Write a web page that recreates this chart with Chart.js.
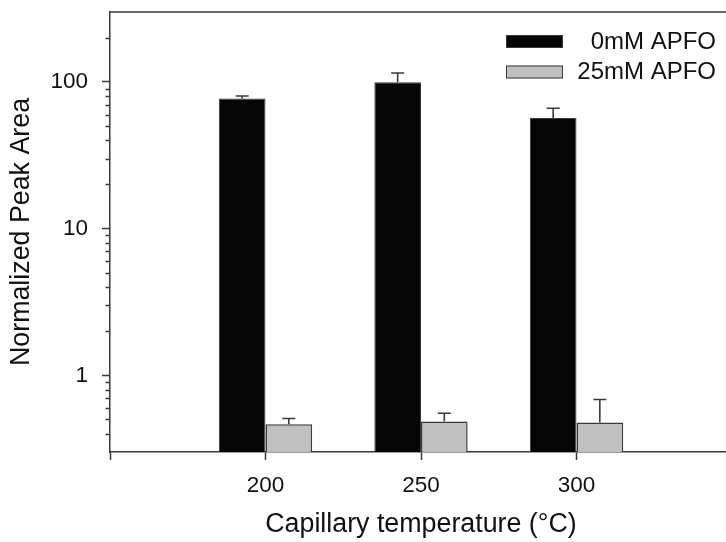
<!DOCTYPE html>
<html lang="en">
<head>
  <meta charset="UTF-8" />
  <title>Normalized Peak Area vs Capillary Temperature</title>
  <script src="https://cdn.jsdelivr.net/npm/chart.js"></script>
  <style>
    html, body { margin: 0; padding: 0; background: #fff; overflow: hidden; }
    canvas { display: block; }
  </style>
</head>
<body>
  <canvas id="peakChart" width="744" height="542"></canvas>

  <script>
    // categories on the x axis (outer two are empty slots so the axis spans 150..350)
    const temperatures = ['', '200', '250', '300', ''];

    const seriesNames = ['0mM APFO', '25mM APFO'];
    const apfo0 = [null, 77.1, 99.5, 56.9, null];
    const apfo0Err = [null, 3.2, 15.6, 9.3, null];
    const apfo25 = [null, 0.464, 0.484, 0.477, null];
    const apfo25Err = [null, 0.044, 0.067, 0.207, null];

    // log axis: 0.3 .. 300, labels on the decades only
    const yMin = 0.3;
    const yMax = 300;
    const yTicks = [0.3, 0.4, 0.5, 0.6, 0.7, 0.8, 0.9,
                    1, 2, 3, 4, 5, 6, 7, 8, 9,
                    10, 20, 30, 40, 50, 60, 70, 80, 90,
                    100, 200, 300];

    const FONT = "'Liberation Sans', Arial, Helvetica, sans-serif";
    const AXIS = '#3a3a3a';

    function isPow10(v) {
      const l = Math.log10(v);
      return Math.abs(l - Math.round(l)) < 1e-9;
    }

    // upward-only error bars
    const errorBars = {
      id: 'errorBars',
      afterDatasetsDraw(chart) {
        const ctx = chart.ctx;
        const y = chart.scales.y;
        ctx.save();
        ctx.strokeStyle = AXIS;
        ctx.lineWidth = 1.6;
        chart.data.datasets.forEach((ds, di) => {
          const meta = chart.getDatasetMeta(di);
          ds.data.forEach((v, i) => {
            const e = ds.errors[i];
            if (v == null || e == null) return;
            const bar = meta.data[i];
            const top = y.getPixelForValue(v + e);
            ctx.beginPath();
            ctx.moveTo(bar.x, bar.y);
            ctx.lineTo(bar.x, top);
            ctx.moveTo(bar.x - 6.5, top);
            ctx.lineTo(bar.x + 6.5, top);
            ctx.stroke();
          });
        });
        ctx.restore();
      }
    };

    // minor log ticks, top frame line and the legend
    const frame = {
      id: 'frame',
      afterDraw(chart) {
        const ctx = chart.ctx;
        const area = chart.chartArea;
        const y = chart.scales.y;
        ctx.save();
        ctx.strokeStyle = AXIS;
        ctx.lineWidth = 1.5;
        ctx.beginPath();
        ctx.moveTo(area.left, area.top);
        ctx.lineTo(area.right, area.top);
        y.ticks.forEach(t => {
          if (isPow10(t.value) || t.value <= yMin || t.value >= yMax) return;
          const py = Math.round(y.getPixelForValue(t.value)) + 0.5;
          ctx.moveTo(area.left - 4.5, py);
          ctx.lineTo(area.left, py);
        });
        ctx.stroke();

        // legend
        ctx.font = '24px ' + FONT;
        ctx.textAlign = 'right';
        ctx.textBaseline = 'middle';
        chart.data.datasets.forEach((ds, i) => {
          const bx = area.right - 226;
          const by = area.top + 23 + i * 30.5;
          ctx.fillStyle = ds.backgroundColor;
          ctx.fillRect(bx, by, 57, 13);
          ctx.lineWidth = 1;
          ctx.strokeStyle = AXIS;
          ctx.strokeRect(bx + 0.5, by + 0.5, 56, 12);
          ctx.fillStyle = '#111';
          ctx.fillText(ds.label, area.right - 16, by + 7);
        });
        ctx.restore();
      }
    };

    new Chart(document.getElementById('peakChart'), {
      type: 'bar',
      data: {
        labels: temperatures,
        datasets: [
          {
            label: seriesNames[0],
            data: apfo0,
            errors: apfo0Err,
            backgroundColor: '#060606',
            borderColor: AXIS,
            borderWidth: 1
          },
          {
            label: seriesNames[1],
            data: apfo25,
            errors: apfo25Err,
            backgroundColor: '#c0c0c0',
            borderColor: AXIS,
            borderWidth: 1.5
          }
        ]
      },
      options: {
        responsive: false,
        animation: false,
        events: [],
        categoryPercentage: 0.6,
        barPercentage: 1.0,
        layout: { padding: { top: 12, left: 0, right: 10, bottom: 0 } },
        plugins: {
          legend: { display: false },
          tooltip: { enabled: false }
        },
        scales: {
          x: {
            type: 'category',
            offset: false,
            grid: {
              offset: false,
              drawOnChartArea: false,
              tickLength: 8,
              tickColor: AXIS,
              tickWidth: 1.5
            },
            border: { color: AXIS, width: 1.5 },
            ticks: {
              color: '#111',
              padding: 12,
              maxRotation: 0,
              autoSkip: false,
              font: { family: FONT, size: 22.5 }
            },
            title: {
              display: true,
              text: 'Capillary temperature (°C)',
              color: '#111',
              padding: { top: 0, bottom: 1.3 },
              font: { family: FONT, size: 26.8 }
            },
            afterFit(scale) { scale.height = 90; }
          },
          y: {
            type: 'logarithmic',
            min: yMin,
            max: yMax,
            grid: {
              drawOnChartArea: false,
              tickLength: 8,
              tickWidth: 1.5,
              tickColor: (c) => (c.tick && isPow10(c.tick.value)) ? AXIS : 'rgba(0,0,0,0)'
            },
            border: { color: AXIS, width: 1.5 },
            ticks: {
              color: '#111',
              padding: 14,
              autoSkip: false,
              font: { family: FONT, size: 22.5 },
              callback: (v) => isPow10(v) ? String(Math.round(v)) : ''
            },
            title: {
              display: true,
              text: 'Normalized Peak Area',
              color: '#111',
              padding: { top: 5.6, bottom: 0 },
              font: { family: FONT, size: 26.8 }
            },
            afterBuildTicks(scale) {
              scale.ticks = yTicks.map(v => ({ value: v, major: isPow10(v) }));
            },
            afterFit(scale) {
              scale.width = 110;
              scale.paddingTop = 0;
              scale.paddingBottom = 0;
            }
          }
        }
      },
      plugins: [errorBars, frame]
    });
  </script>
</body>
</html>
